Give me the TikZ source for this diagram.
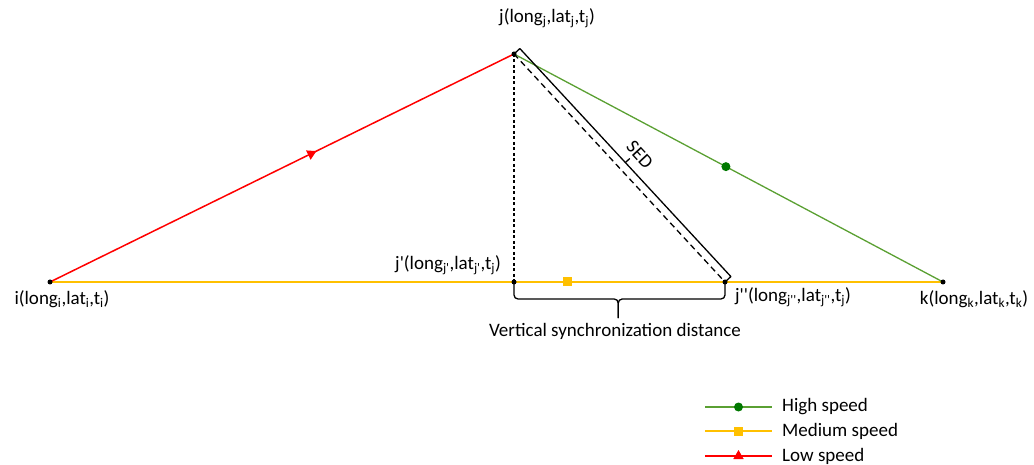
\documentclass[tikz,border=0pt]{standalone}
\usepackage{fontspec}
\setmainfont{Carlito}
\usetikzlibrary{calc,shapes.geometric}
\definecolor{lowred}{RGB}{255,0,0}
\definecolor{medorange}{RGB}{255,192,0}
\definecolor{highgreen}{RGB}{90,160,50}
\definecolor{dotgreen}{RGB}{0,120,0}
\newcommand{\pr}{\textquotesingle}
\begin{document}
\begin{tikzpicture}[x=1pt,y=-1pt,
  font=\fontsize{19}{22}\selectfont,
  pt/.style={circle,fill=black,inner sep=0pt,minimum size=5pt},
  lbl/.style={inner sep=0pt},
  lowline/.style={draw=lowred,line width=1.5pt},
  medline/.style={draw=medorange,line width=2pt},
  highline/.style={draw=highgreen,line width=1.3pt},
  trimark/.style={isosceles triangle,isosceles triangle apex angle=60,fill=lowred,inner sep=0pt,minimum size=9pt},
  sqmark/.style={rectangle,fill=medorange,inner sep=0pt,minimum size=9pt},
  dotmark/.style={circle,fill=dotgreen,inner sep=0pt,minimum size=9pt},
  blk/.style={draw=black,line width=1.3pt},
  fine dash/.style={draw=black,line width=1.1pt,dash pattern=on 3pt off 2.5pt},
  long dash/.style={draw=black,line width=1.3pt,dash pattern=on 6pt off 4pt}]
\useasboundingbox (0,0) rectangle (1034,465);

% points
\coordinate (ic) at (50,282);
\coordinate (jc) at (514,54);
\coordinate (kc) at (943,282);
\coordinate (jpc) at (514,282);
\coordinate (jppc) at (725,282);

% lines
\draw[medline] (ic) -- (kc) node[sqmark,pos=0.579]{};
\draw[lowline] (ic) -- (jc) node[trimark,sloped,pos=0.5625]{};
\draw[highline] (jc) -- (kc) node[dotmark,pos=0.494]{};
\draw[fine dash] (jc) -- (jpc);
\draw[long dash] (jc) -- (jppc);

% SED bracket
\coordinate (sa) at ($(jc)!8pt!90:(jppc)$);
\coordinate (sb) at ($(jppc)!8pt!-90:(jc)$);
\draw[blk,line join=round] (jc) -- (sa) -- (sb) -- (jppc);
\coordinate (sm) at ($(sa)!0.5!(sb)$);
\draw[blk] (sm) -- ($(sm)!6pt!90:(sb)$);
\coordinate (sm2) at ($(sm)!4pt!(sb)$);
\node[lbl,rotate=-47.2] (sed) at ($(sm2)!16pt!90:(sb)$) {SED};

% brace
\coordinate (bmid) at ($(jpc)!0.494!(jppc)+(0,17)$);
\coordinate (btip) at ($(bmid)+(0,19)$);
\draw[blk,rounded corners=4pt] (jpc) |- (bmid) -- (btip);
\draw[blk,rounded corners=4pt] (jppc) |- (bmid) -- (btip);

% dots
\node[pt] (i) at (ic) {};
\node[pt] (j) at (jc) {};
\node[pt] (k) at (kc) {};
\node[pt] (jp) at (jpc) {};
\node[pt] (jpp) at (jppc) {};

% labels
\node[lbl] (jl) at (547,18) {j(long\textsubscript{j},lat\textsubscript{j},t\textsubscript{j})};
\node[lbl] (il) at (62,299) {i(long\textsubscript{i},lat\textsubscript{i},t\textsubscript{i})};
\node[lbl] (kl) at (974,299) {k(long\textsubscript{k},lat\textsubscript{k},t\textsubscript{k})};
\node[lbl] (jpl) at (448,265) {j\pr(long\textsubscript{j\pr},lat\textsubscript{j\pr},t\textsubscript{j})};
\node[lbl] (jppl) at (793,297) {j\pr\pr(long\textsubscript{j\pr\pr},lat\textsubscript{j\pr\pr},t\textsubscript{j})};
\node[lbl] (vsd) at (615,331) {Vertical synchronization distance};

% legend
\coordinate (g1) at (705,407); \coordinate (g2) at (772,407);
\coordinate (o1) at (705,431); \coordinate (o2) at (772,431);
\coordinate (r1) at (705,456); \coordinate (r2) at (772,456);
\draw[highline] (g1) -- (g2) node[dotmark,pos=0.5]{};
\draw[medline] (o1) -- (o2) node[sqmark,pos=0.5]{};
\draw[lowline] (r1) -- (r2) node[trimark,pos=0.5,rotate=90]{};
\node[lbl,anchor=west] (lg) at (782,407) {High speed};
\node[lbl,anchor=west] (lo) at (782,431) {Medium speed};
\node[lbl,anchor=west] (lr) at (782,456) {Low speed};
\end{tikzpicture}
\end{document}
